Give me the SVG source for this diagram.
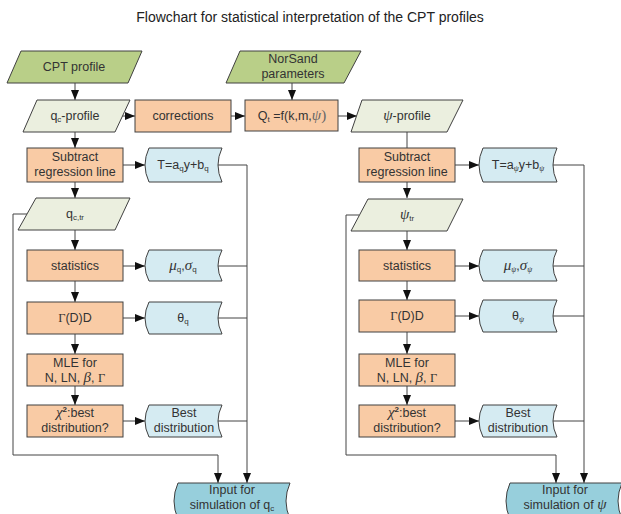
<svg xmlns="http://www.w3.org/2000/svg" width="621" height="514" viewBox="0 0 621 514">
<defs>
<style>
text{font-family:"Liberation Sans",Arial,sans-serif;font-size:12.5px;fill:#333;text-anchor:middle}
.title{font-size:14px;fill:#222}
.g{font-family:"Liberation Serif","Times New Roman",serif;font-style:italic}
.gu{font-family:"Liberation Serif","Times New Roman",serif}
.big{font-size:15px}
.sub{font-size:8px}
.green{fill:#b9cf88;stroke:#404040;stroke-width:1}
.light{fill:#ebefdf;stroke:#404040;stroke-width:1}
.orange{fill:#f9cba5;stroke:#404040;stroke-width:1}
.blue{fill:#d5ebf2;stroke:#404040;stroke-width:1}
.dblue{fill:#97cfdc;stroke:#404040;stroke-width:1}
.c{fill:none;stroke:#444;stroke-width:1}
.a{marker-end:url(#arr)}
</style>
<marker id="arr" markerWidth="10" markerHeight="8" refX="10" refY="4" orient="auto" markerUnits="userSpaceOnUse">
<path d="M0,0 L10,4 L0,8 Z" fill="#111"/>
</marker>
</defs>
<rect width="621" height="514" fill="#fff"/>
<text class="title" x="310" y="22">Flowchart for statistical interpretation of the CPT profiles</text>

<g id="connectors">
<path class="c a" d="M75,83 V100"/>
<path class="c a" d="M122,116 H135"/>
<path class="c a" d="M231,116 H245"/>
<path class="c a" d="M292,83 V100"/>
<path class="c a" d="M338,116 H357"/>
<path class="c a" d="M75,132 V148"/>
<path class="c" d="M407,132 V148"/>
<path class="c a" d="M123,165 H145"/>
<path class="c a" d="M455,165 H479"/>
<path class="c a" d="M218,165 H247 V483"/>
<path class="c a" d="M553,165 H584 V483"/>
<path class="c" d="M218,266 H247 M218,318 H247 M218,421 H247"/>
<path class="c" d="M553,266 H584 M553,316 H584 M553,421 H584"/>
<path class="c a" d="M75,182 V198"/>
<path class="c a" d="M407,182 V198"/>
<path class="c a" d="M27,214 H13 V455 H218 V483"/>
<path class="c a" d="M359,215 H346 V455 H556 V483"/>
<path class="c a" d="M75,230 V250"/>
<path class="c a" d="M407,231 V250"/>
<path class="c a" d="M123,266 H145"/>
<path class="c a" d="M455,266 H479"/>
<path class="c a" d="M75,281 V302"/>
<path class="c a" d="M407,281 V300"/>
<path class="c a" d="M123,318 H145"/>
<path class="c a" d="M455,316 H479"/>
<path class="c a" d="M75,334 V354"/>
<path class="c a" d="M407,332 V354"/>
<path class="c a" d="M75,386 V405"/>
<path class="c a" d="M407,386 V405"/>
<path class="c a" d="M123,421 H145"/>
<path class="c a" d="M455,421 H479"/>
</g>

<g id="cpt-profile">
<polygon class="green" points="21,51 142,51 128,83 7,83"/>
<text x="74" y="71">CPT profile</text>
</g>
<g id="norsand">
<polygon class="green" points="240,51 361,51 344,83 226,83"/>
<text x="293" y="63">NorSand</text>
<text x="293" y="78">parameters</text>
</g>
<g id="qc-profile">
<polygon class="light" points="37,100 130,100 115,132 23,132"/>
<text x="75" y="120">q<tspan class="sub" dy="2">c</tspan><tspan dy="-2">-profile</tspan></text>
</g>
<g id="corrections">
<rect class="orange" x="135" y="100" width="96" height="32"/>
<text x="183" y="120">corrections</text>
</g>
<g id="qt">
<rect class="orange" x="245" y="100" width="93" height="31"/>
<text x="292" y="120">Q<tspan class="sub" dy="2">t</tspan><tspan dy="-2"> =f(k,m,</tspan><tspan class="g big" fill="#666">ψ</tspan><tspan class="gu big" fill="#666">)</tspan></text>
</g>
<g id="psi-profile">
<polygon class="light" points="362,100 463,100 447,132 351,132"/>
<text x="407" y="120"><tspan class="g big">ψ</tspan>-profile</text>
</g>

<g id="subtract-q">
<rect class="orange" x="27" y="148" width="96" height="34"/>
<text x="75" y="161">Subtract</text>
<text x="75" y="176">regression line</text>
</g>
<g id="subtract-psi">
<rect class="orange" x="359" y="148" width="96" height="34"/>
<text x="407" y="161">Subtract</text>
<text x="407" y="176">regression line</text>
</g>
<g id="t-q">
<path class="blue" d="M149,148 H222 Q214,165 222,182 H149 Q141,165 149,148 Z"/>
<text x="183" y="169">T=a<tspan class="sub" dy="2">q</tspan><tspan dy="-2">y+b</tspan><tspan class="sub" dy="2">q</tspan></text>
</g>
<g id="t-psi">
<path class="blue" d="M483,148 H557 Q549,165 557,182 H483 Q475,165 483,148 Z"/>
<text x="518" y="169">T=a<tspan class="sub g" dy="2">ψ</tspan><tspan dy="-2">y+b</tspan><tspan class="sub g" dy="2">ψ</tspan></text>
</g>

<g id="qc-tr">
<polygon class="light" points="36,198 130,198 115,230 18,230"/>
<text x="75" y="218">q<tspan class="sub" dy="2">c,tr</tspan></text>
</g>
<g id="psi-tr">
<polygon class="light" points="368,199 463,199 447,231 351,231"/>
<text x="407" y="219"><tspan class="g big">ψ</tspan><tspan class="sub" dy="2">tr</tspan></text>
</g>

<g id="statistics-q">
<rect class="orange" x="27" y="250" width="96" height="31"/>
<text x="75" y="270">statistics</text>
</g>
<g id="statistics-psi">
<rect class="orange" x="359" y="250" width="96" height="31"/>
<text x="407" y="270">statistics</text>
</g>
<g id="mu-q">
<path class="blue" d="M149,250 H222 Q214,265.5 222,281 H149 Q141,265.5 149,250 Z"/>
<text x="183" y="270"><tspan class="g big">μ</tspan><tspan class="sub" dy="2">q</tspan><tspan dy="-2">,</tspan><tspan class="g big">σ</tspan><tspan class="sub" dy="2">q</tspan></text>
</g>
<g id="mu-psi">
<path class="blue" d="M483,250 H557 Q549,265.5 557,281 H483 Q475,265.5 483,250 Z"/>
<text x="518" y="270"><tspan class="g big">μ</tspan><tspan class="sub g" dy="2">ψ</tspan><tspan dy="-2">,</tspan><tspan class="g big">σ</tspan><tspan class="sub g" dy="2">ψ</tspan></text>
</g>

<g id="gamma-q">
<rect class="orange" x="27" y="302" width="96" height="32"/>
<text x="75" y="322"><tspan class="gu">Γ</tspan>(D)D</text>
</g>
<g id="gamma-psi">
<rect class="orange" x="359" y="300" width="96" height="32"/>
<text x="407" y="320"><tspan class="gu">Γ</tspan>(D)D</text>
</g>
<g id="theta-q">
<path class="blue" d="M149,302 H222 Q214,318 222,334 H149 Q141,318 149,302 Z"/>
<text x="183" y="322">θ<tspan class="sub" dy="2">q</tspan></text>
</g>
<g id="theta-psi">
<path class="blue" d="M483,300 H557 Q549,316 557,332 H483 Q475,316 483,300 Z"/>
<text x="518" y="320">θ<tspan class="sub g" dy="2">ψ</tspan></text>
</g>

<g id="mle-q">
<rect class="orange" x="27" y="354" width="96" height="32"/>
<text x="75" y="367">MLE for</text>
<text x="75" y="382">N, LN, <tspan class="g big">β</tspan>, <tspan class="gu">Γ</tspan></text>
</g>
<g id="mle-psi">
<rect class="orange" x="359" y="354" width="96" height="32"/>
<text x="407" y="367">MLE for</text>
<text x="407" y="382">N, LN, <tspan class="g big">β</tspan>, <tspan class="gu">Γ</tspan></text>
</g>
<g id="chi-q">
<rect class="orange" x="27" y="405" width="96" height="32"/>
<text x="75" y="417"><tspan class="g big">χ</tspan><tspan class="sub" dy="-5" font-weight="bold">2</tspan><tspan dy="5">:best</tspan></text>
<text x="75" y="432">distribution?</text>
</g>
<g id="chi-psi">
<rect class="orange" x="359" y="405" width="96" height="32"/>
<text x="407" y="417"><tspan class="g big">χ</tspan><tspan class="sub" dy="-5" font-weight="bold">2</tspan><tspan dy="5">:best</tspan></text>
<text x="407" y="432">distribution?</text>
</g>
<g id="best-q">
<path class="blue" d="M149,405 H222 Q214,421 222,437 H149 Q141,421 149,405 Z"/>
<text x="184" y="417">Best</text>
<text x="184" y="432">distribution</text>
</g>
<g id="best-psi">
<path class="blue" d="M483,405 H557 Q549,421 557,437 H483 Q475,421 483,405 Z"/>
<text x="518" y="417">Best</text>
<text x="518" y="432">distribution</text>
</g>

<g id="input-q">
<path class="dblue" d="M178,483 H290 Q282,501 290,519 H178 Q170,501 178,483 Z"/>
<text x="232" y="494">Input for</text>
<text x="232" y="509">simulation of q<tspan class="sub" dy="2">c</tspan></text>
</g>
<g id="input-psi">
<path class="dblue" d="M510,483 H622 Q614,501 622,519 H510 Q502,501 510,483 Z"/>
<text x="565" y="494">Input for</text>
<text x="565" y="509">simulation of <tspan class="g big">ψ</tspan></text>
</g>
</svg>
